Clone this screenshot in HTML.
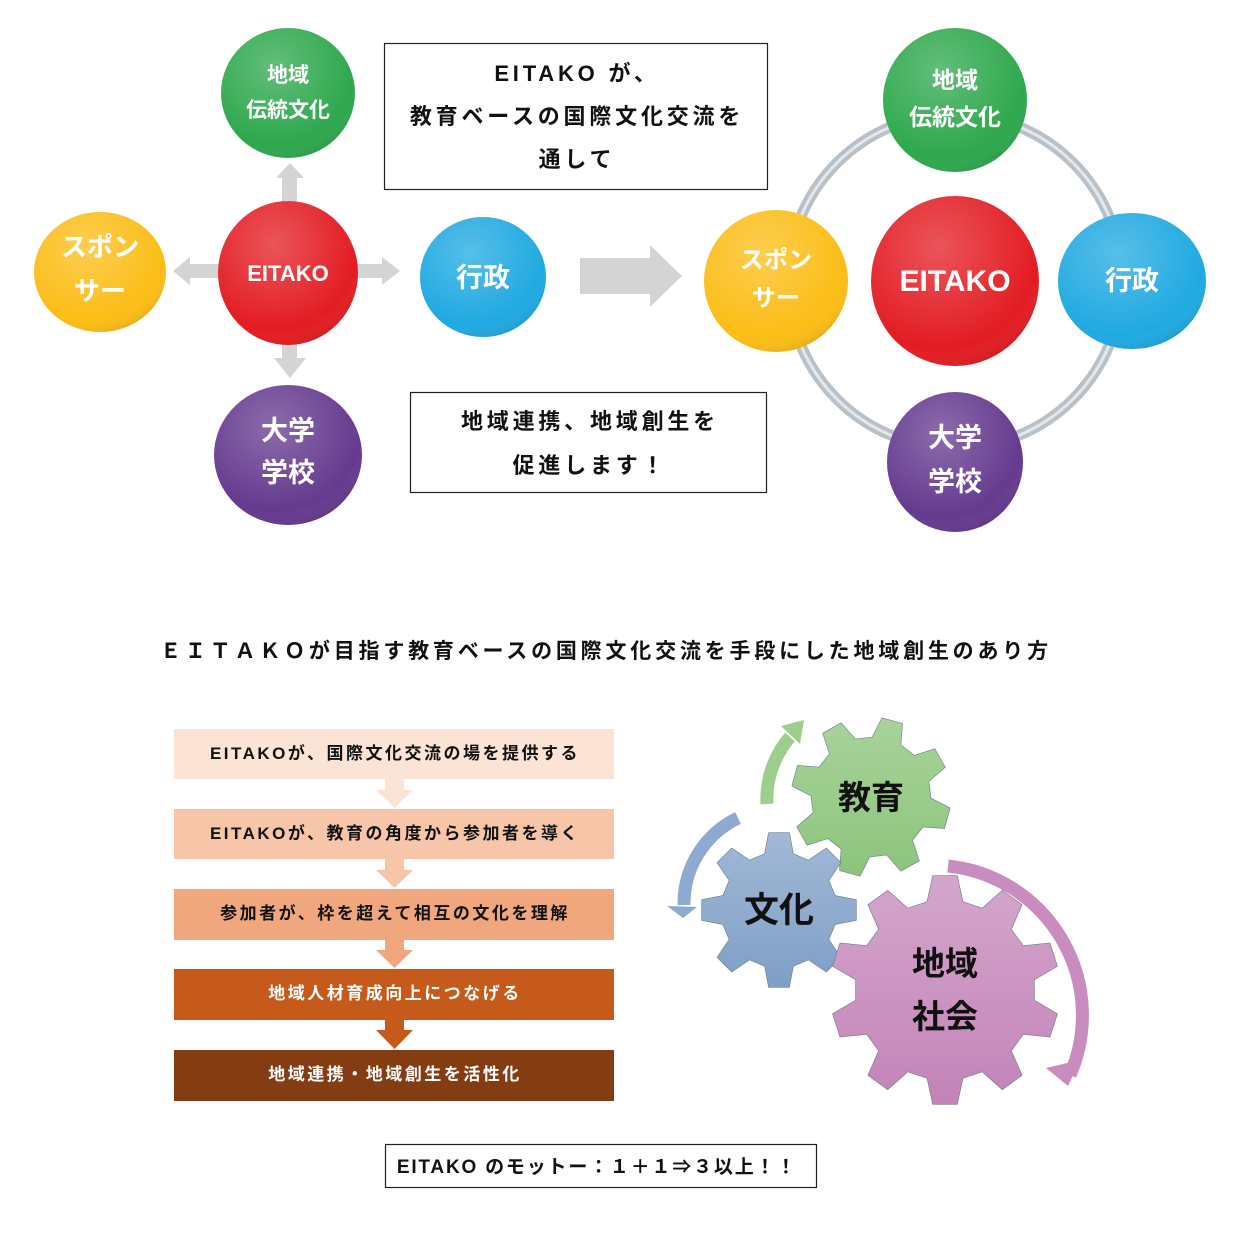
<!DOCTYPE html>
<html><head><meta charset="utf-8"><style>
html,body{margin:0;padding:0;background:#fff}
svg{display:block}
text{font-family:"Liberation Sans","Noto Sans CJK JP",sans-serif;font-weight:bold}
</style></head><body>
<svg id="s" width="1239" height="1240" viewBox="0 0 1239 1240" xmlns="http://www.w3.org/2000/svg">
<defs>
<radialGradient id="sh" cx="0.4" cy="0.3" r="0.75"><stop offset="0" stop-color="#fff" stop-opacity="0.25"/><stop offset="0.8" stop-color="#fff" stop-opacity="0"/><stop offset="1" stop-color="#000" stop-opacity="0.12"/></radialGradient>
<linearGradient id="gg" x1="0" y1="0" x2="0" y2="1"><stop offset="0" stop-color="#a9d39a"/><stop offset="1" stop-color="#8cc47c"/></linearGradient>
<linearGradient id="gb" x1="0" y1="0" x2="0" y2="1"><stop offset="0" stop-color="#a2b8d6"/><stop offset="1" stop-color="#7f9fc6"/></linearGradient>
<linearGradient id="gp" x1="0" y1="0" x2="0" y2="1"><stop offset="0" stop-color="#d4a6cc"/><stop offset="1" stop-color="#c383b8"/></linearGradient>
</defs>
<g fill="#d4d4d4">
<polygon points="282,210 282,178 276,178 290,163 304,178 297,178 297,210"/>
<polygon points="220,264 190,264 190,257 173,271 190,285 190,278 220,278"/>
<polygon points="352,264 382,264 382,257 400,271 382,285 382,278 352,278"/>
<polygon points="282,338 282,358 274,358 290,378 306,358 297,358 297,338"/>
<polygon points="580,258 650,258 650,245 682,276 650,307 650,294 580,294"/>
</g>
<ellipse cx="288" cy="93" rx="67" ry="65" fill="#2ea84d"/><ellipse cx="288" cy="93" rx="67" ry="65" fill="url(#sh)"/>
<ellipse cx="288" cy="273" rx="70" ry="72" fill="#e31c23"/><ellipse cx="288" cy="273" rx="70" ry="72" fill="url(#sh)"/>
<ellipse cx="100" cy="272" rx="66" ry="60" fill="#fbbd16"/><ellipse cx="100" cy="272" rx="66" ry="60" fill="url(#sh)"/>
<ellipse cx="483" cy="277" rx="63" ry="60" fill="#1fa9e1"/><ellipse cx="483" cy="277" rx="63" ry="60" fill="url(#sh)"/>
<ellipse cx="288" cy="455" rx="74" ry="70" fill="#653a8f"/><ellipse cx="288" cy="455" rx="74" ry="70" fill="url(#sh)"/>
<g fill="#fff" text-anchor="middle">
<text x="288" y="82" font-size="21">地域</text><text x="288" y="117" font-size="21">伝統文化</text>
<text x="288" y="281" font-size="22">EITAKO</text>
<text x="100" y="256" font-size="26">スポン</text><text x="100" y="300" font-size="26">サー</text>
<text x="483" y="287" font-size="27">行政</text>
<text x="288" y="440" font-size="27">大学</text><text x="288" y="482" font-size="27">学校</text>
</g>
<rect x="384.5" y="43.5" width="383" height="146" fill="#fff" stroke="#222" stroke-width="1.2"/>
<g text-anchor="middle" font-size="22" fill="#111" letter-spacing="3.8">
<text x="577" y="81">EITAKO が、</text><text x="577" y="124">教育ベースの国際文化交流を</text><text x="577" y="167">通して</text>
</g>
<rect x="410.5" y="392.5" width="356" height="100" fill="#fff" stroke="#222" stroke-width="1.2"/>
<g text-anchor="middle" font-size="22" fill="#111" letter-spacing="3.8">
<text x="590" y="429">地域連携、地域創生を</text><text x="590" y="473">促進します！</text>
</g>
<circle cx="955" cy="281" r="167" fill="none" stroke="#b8c0c8" stroke-width="11"/>
<circle cx="955" cy="281" r="167" fill="none" stroke="#e4e8ec" stroke-width="3"/>
<ellipse cx="955" cy="100" rx="72" ry="72" fill="#2ea84d"/><ellipse cx="955" cy="100" rx="72" ry="72" fill="url(#sh)"/>
<ellipse cx="955" cy="281" rx="84" ry="85" fill="#e31c23"/><ellipse cx="955" cy="281" rx="84" ry="85" fill="url(#sh)"/>
<ellipse cx="776" cy="281" rx="72" ry="71" fill="#fbbd16"/><ellipse cx="776" cy="281" rx="72" ry="71" fill="url(#sh)"/>
<ellipse cx="1132" cy="281" rx="74" ry="68" fill="#1fa9e1"/><ellipse cx="1132" cy="281" rx="74" ry="68" fill="url(#sh)"/>
<ellipse cx="955" cy="462" rx="68" ry="70" fill="#653a8f"/><ellipse cx="955" cy="462" rx="68" ry="70" fill="url(#sh)"/>
<g fill="#fff" text-anchor="middle">
<text x="955" y="88" font-size="23">地域</text><text x="955" y="125" font-size="23">伝統文化</text>
<text x="955" y="291" font-size="30">EITAKO</text>
<text x="776" y="268" font-size="24">スポン</text><text x="776" y="306" font-size="24">サー</text>
<text x="1132" y="290" font-size="27">行政</text>
<text x="955" y="447" font-size="27">大学</text><text x="955" y="491" font-size="27">学校</text>
</g>
<text x="606" y="658" text-anchor="middle" font-size="21" fill="#111" letter-spacing="3.8">ＥＩＴＡＫＯが目指す教育ベースの国際文化交流を手段にした地域創生のあり方</text>
<g>
<polygon points="385,779 404,779 404,790 413,790 394.5,808 376,790 385,790" fill="#fbe4d6"/>
<polygon points="385,859 404,859 404,870 413,870 394.5,888 376,870 385,870" fill="#f7c6a9"/>
<polygon points="385,940 404,940 404,950 413,950 394.5,968 376,950 385,950" fill="#f0a77e"/>
<polygon points="385,1020 404,1020 404,1030 413,1030 394.5,1049 376,1030 385,1030" fill="#c55a1a"/>
<rect x="174" y="729" width="440" height="50" fill="#fbe4d6"/>
<rect x="174" y="809" width="440" height="50" fill="#f7c6a9"/>
<rect x="174" y="889" width="440" height="51" fill="#f0a77e"/>
<rect x="174" y="969" width="440" height="51" fill="#c55a1a"/>
<rect x="174" y="1050" width="440" height="51" fill="#843c12"/>
</g>
<g text-anchor="middle" font-size="17" letter-spacing="2.5">
<text x="395" y="759" fill="#111">EITAKOが、国際文化交流の場を提供する</text>
<text x="395" y="839" fill="#111">EITAKOが、教育の角度から参加者を導く</text>
<text x="395" y="919" fill="#111">参加者が、枠を超えて相互の文化を理解</text>
<text x="395" y="999" fill="#fff">地域人材育成向上につなげる</text>
<text x="395" y="1080" fill="#fff">地域連携・地域創生を活性化</text>
</g>
<path d="M767,804 A95,95 0 0 1 790,737" fill="none" stroke="#9ccf8c" stroke-width="13"/>
<polygon points="781,726 804,720 800,744" fill="#9ccf8c"/>
<path d="M738,818 A95,95 0 0 0 684,905" fill="none" stroke="#8eaad0" stroke-width="13"/>
<polygon points="667,906 697,907 683,918" fill="#8eaad0"/>
<path d="M948,866 A150,150 0 0 1 1070,1075" fill="none" stroke="#c98cbf" stroke-width="13"/>
<polygon points="1046,1068 1068,1086 1080,1060" fill="#c98cbf"/>
<g id="gears"></g>
<g text-anchor="middle" fill="#111">
<text x="871" y="809" font-size="33">教育</text>
<text x="779" y="922" font-size="35">文化</text>
<text x="945" y="975" font-size="33">地域</text><text x="945" y="1028" font-size="33">社会</text>
</g>
<rect x="385.5" y="1144.5" width="431" height="43" fill="#fff" stroke="#222" stroke-width="1.2"/>
<text x="597" y="1173" text-anchor="middle" font-size="19" fill="#111" letter-spacing="1.8">EITAKO のモットー：１＋１⇒３以上！！</text>
</svg>
<script>
function gear(cx,cy,ro,ri,n,rot,fill){
 var p=[],step=2*Math.PI/n;
 for(var i=0;i<n;i++){
  var a=rot+i*step;
  var t=[[-0.32,ri],[-0.17,ro],[0.17,ro],[0.32,ri],[0.68,ri]];
  t.forEach(function(q){var ang=a+q[0]*step;p.push((cx+q[1]*Math.cos(ang)).toFixed(1)+","+(cy+q[1]*Math.sin(ang)).toFixed(1));});
 }
 var el=document.createElementNS("http://www.w3.org/2000/svg","polygon");
 el.setAttribute("points",p.join(" "));el.setAttribute("fill",fill);el.setAttribute("stroke","#6a7a8a");el.setAttribute("stroke-width","0.6");
 document.getElementById("gears").appendChild(el);
}
gear(871,797,80,60,8,-1.3,"url(#gg)");
gear(779,910,78,58,8,-1.5708,"url(#gb)");
gear(945,990,115,90,10,-1.5708,"url(#gp)");
</script>
</body></html>
